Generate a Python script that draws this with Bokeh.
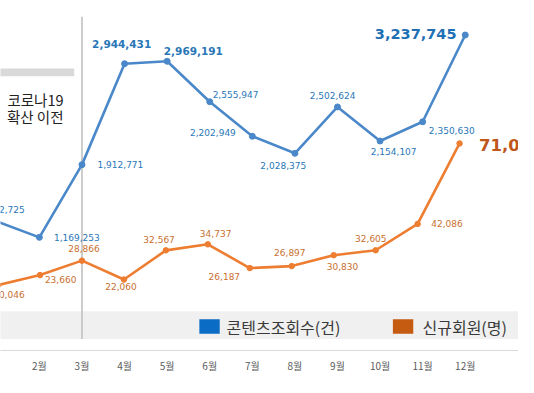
from bokeh.plotting import figure
from bokeh.models import Range1d, FixedTicker
from bokeh.embed import file_html
from bokeh.resources import INLINE
from bokeh.core.properties import value

# ---------------- data ----------------
months = ["1월", "2월", "3월", "4월", "5월", "6월", "7월", "8월", "9월", "10월", "11월", "12월"]
month_idx = [1, 2, 3, 4, 5, 6, 7, 8, 9, 10, 11, 12]
views = [1332725, 1169253, 1912771, 2944431, 2969191, 2555947,
         2202949, 2028375, 2502624, 2154107, 2350630, 3237745]          # 콘텐츠조회수(건)
members = [20046, 23660, 28866, 22060, 32567, 34737,
           26187, 26897, 30830, 32605, 42086, 71064]                    # 신규회원(명)
series_names = ["콘텐츠조회수(건)", "신규회원(명)"]
covid_note = ["코로나19", "확산 이전"]
covid_month = 3

# ---------------- layout / style ----------------
W, H = 518, 377
FRAME_H = 350
REF_W, REF_H = 534.0, 365.0          # reference pixel box mapped on the frame
SX, SY = W / REF_W, FRAME_H / REF_H

X_START, X_END = 1.0866, 13.2506      # views x-scale
OX_START, OX_END = 1.0578, 13.4046    # members x-scale
Y_START, Y_END = 12571, 3590652       # views y-scale
OY_START, OY_END = -3492, 122543      # members y-scale

BLUE_LINE = "#4a88c9"
BLUE_TXT = "#2a77b8"
BLUE_BIG = "#1f6fb5"
ORANGE_LINE = "#ed7d31"
ORANGE_TXT = "#c8702f"
ORANGE_BIG = "#c0561a"
NUM_FONT = "DejaVu Sans"
KR_FONT = "Noto Sans CJK KR"

# (dx, dy, align, size, bold) in reference pixels
blue_lbl = [(28.8, -12, "right", 9, False), (15, 0, "left", 9, False),
            (16, 0, "left", 9, False), (-3, -21, "center", 10.5, True),
            (27, -11, "center", 10.5, True), (3, -8, "left", 9, False),
            (-17, -4, "right", 9, False), (-12, 13, "center", 9, False),
            (-5, -12, "center", 9, False), (14, 11, "center", 9, False),
            (30, 9, "center", 9, False), (-9, -1, "right", 14.5, True)]
orange_lbl = [(27.4, 10, "right", 9, False), (5, 5, "left", 9, False),
              (2, -13, "center", 9, False), (-3, 7, "center", 9, False),
              (-7, -11, "center", 9, False), (8, -11, "center", 9, False),
              (-10, 9, "right", 9, False), (-2, -14, "center", 9, False),
              (9, 12, "center", 9, False), (-5, -12, "center", 9, False),
              (14, 0, "left", 9, False), (20, 2, "left", 16.5, True)]


def rx(px):
    return X_START + px / REF_W * (X_END - X_START)


def ry(py):
    return Y_END - py / REF_H * (Y_END - Y_START)


p = figure(width=W, height=H, output_backend="svg", toolbar_location=None,
           x_range=Range1d(X_START, X_END), y_range=Range1d(Y_START, Y_END),
           y_axis_location=None, min_border_left=0, min_border_right=0,
           min_border_top=0, min_border_bottom=H - FRAME_H,
           background_fill_color="white", border_fill_color="white")
p.extra_x_ranges = {"ox": Range1d(OX_START, OX_END)}
p.extra_y_ranges = {"oy": Range1d(OY_START, OY_END)}
p.outline_line_color = None
p.grid.visible = False

ax = p.xaxis[0]
ax.ticker = FixedTicker(ticks=month_idx)
ax.major_label_overrides = {i: m for i, m in zip(month_idx, months)}
ax.axis_line_color = "#d9d9d9"
ax.axis_line_width = 1.2
ax.major_tick_line_color = None
ax.minor_tick_line_color = None
ax.major_tick_out = 0
ax.major_label_standoff = 7
ax.major_label_text_font = KR_FONT
ax.major_label_text_font_size = "10px"
ax.major_label_text_color = "#5a5a5a"

# legend band
p.quad(left=[rx(-5)], right=[rx(540)], bottom=[ry(353)], top=[ry(324)],
       fill_color="#f0f0f0", line_color=None)
# covid divider
p.segment(x0=[covid_month], y0=[ry(353)], x1=[covid_month], y1=[ry(17)],
          line_color="#c0c0c0", line_width=1.6)
# gray header bar + note
p.quad(left=[rx(-5)], right=[rx(76)], bottom=[ry(79)], top=[ry(71)],
       fill_color="#d9d9d9", line_color=None)
for i, t in enumerate(covid_note):
    p.text(x=[rx(65)], y=[ry(103 + 18 * i)], text=[t], text_align="right",
           text_baseline="middle", text_font=value(KR_FONT),
           text_font_size="14.5px", text_color="#222222")

# series
p.line(month_idx, views, line_color=BLUE_LINE, line_width=2.6)
p.scatter(month_idx, views, size=6, fill_color=BLUE_LINE, line_color=BLUE_LINE)
p.line(month_idx, members, line_color=ORANGE_LINE, line_width=2.6,
       x_range_name="ox", y_range_name="oy")
p.scatter(month_idx, members, size=5.5, fill_color=ORANGE_LINE, line_color=ORANGE_LINE,
          x_range_name="ox", y_range_name="oy")

# data labels
for m, v, (dx, dy, al, sz, bold) in zip(month_idx, views, blue_lbl):
    big = sz > 12
    p.text(x=[m], y=[v], text=[f"{v:,}"], x_offset=dx * SX, y_offset=dy * SY,
           text_align=al, text_baseline="middle", text_font=value(NUM_FONT),
           text_font_size=f"{sz}px", text_font_style="bold" if bold else "normal",
           text_color=BLUE_BIG if big else BLUE_TXT)
for m, v, (dx, dy, al, sz, bold) in zip(month_idx, members, orange_lbl):
    big = sz > 12
    p.text(x=[m], y=[v], text=[f"{v:,}"], x_offset=dx * SX, y_offset=dy * SY,
           text_align=al, text_baseline="middle", text_font=value(NUM_FONT),
           text_font_size=f"{sz}px", text_font_style="bold" if bold else "normal",
           text_color=ORANGE_BIG if big else ORANGE_TXT,
           x_range_name="ox", y_range_name="oy")

# legend
leg_colors = ["#0a6cc4", "#c55a11"]
leg_sq_x = [215.5, 415]
leg_txt_x = [233, 435]
for name, c, sqx, tx in zip(series_names, leg_colors, leg_sq_x, leg_txt_x):
    p.rect(x=[rx(sqx)], y=[ry(340)], width=21 * SX, height=15 * SY,
           width_units="screen", height_units="screen",
           fill_color=c, line_color=None)
    p.text(x=[rx(tx)], y=[ry(340)], text=[name], text_align="left",
           text_baseline="middle", text_font=value(KR_FONT),
           text_font_size="16px", text_color="#3a3a3a")

open("out.html", "w").write(file_html(p, INLINE))
